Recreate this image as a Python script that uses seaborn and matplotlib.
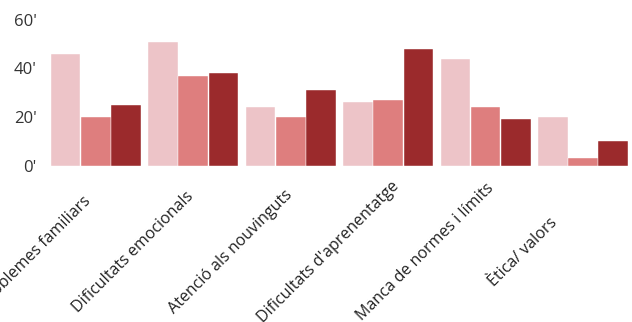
import pandas as pd
import matplotlib.pyplot as plt
import matplotlib.transforms as mtransforms
import seaborn as sns

categories = ["Problemes familiars", "Dificultats emocionals", "Atenció als nouvinguts",
              "Dificultats d'aprenentatge", "Manca de normes i límits", "Ètica/ valors"]
series_names = ["Sèrie 1", "Sèrie 2", "Sèrie 3"]
serie_1 = [46, 51, 24, 26, 44, 20]
serie_2 = [20, 37, 20, 27, 24, 3]
serie_3 = [25, 38, 31, 48, 19, 10]
colors = ["#EDC4C8", "#DE7E7E", "#9B2A2C"]
y_ticks = [0, 20, 40, 60]

rows = []
for name, vals in zip(series_names, [serie_1, serie_2, serie_3]):
    for cat, v in zip(categories, vals):
        rows.append({"categoria": cat, "serie": name, "valor": v})
df = pd.DataFrame(rows)

sns.set_style("white")
plt.rcParams["font.family"] = ["Open Sans", "DejaVu Sans"]

fig = plt.figure(figsize=(6.32, 3.22), dpi=100)
ax = fig.add_axes([0.0715, 0.486, 0.925, 0.452])

sns.barplot(data=df, x="categoria", y="valor", hue="serie", palette=colors,
            saturation=1, width=0.93, gap=0.02, edgecolor="white", linewidth=0.3,
            legend=False, ax=ax)

ax.set_ylim(0, 60)
ax.set_yticks(y_ticks)
ax.set_yticklabels([f"{t}'" for t in y_ticks], fontsize=12, color="#333333")
ax.set_xlabel("")
ax.set_ylabel("")
ax.tick_params(axis="both", length=0)
ax.tick_params(axis="y", pad=6)
ax.set_xticklabels([])
sns.despine(ax=ax, left=True, bottom=True)
ax.set_xlim(-0.52, 5.48)

# rotated category labels, centred left of each group (as in the original)
trans = mtransforms.blended_transform_factory(ax.transData, fig.transFigure)
trans = trans + mtransforms.ScaledTranslation(-0.60, 0, fig.dpi_scale_trans)
for i, cat in enumerate(categories):
    ax.text(i, 0.2174, cat, transform=trans, rotation=45, rotation_mode="anchor",
            ha="center", va="center", fontsize=11.5, color="#222222", clip_on=False)

fig.savefig("out.png", dpi=100)
